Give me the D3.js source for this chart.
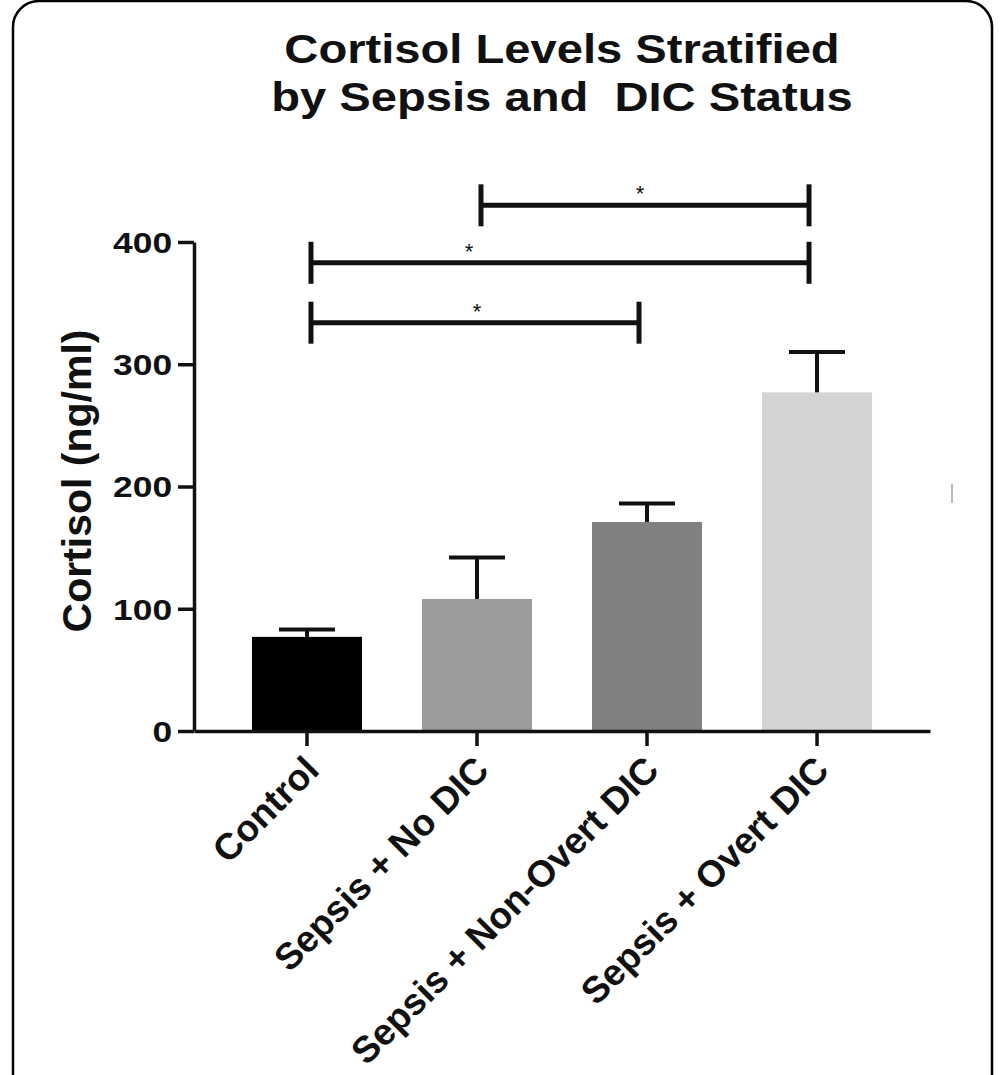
<!DOCTYPE html>
<html>
<head>
<meta charset="utf-8">
<script src="https://cdn.jsdelivr.net/npm/d3@7"></script>
<style>
  body { margin: 0; background: #fff; }
  svg text { font-family: "Liberation Sans", Arial, sans-serif; font-weight: bold; fill: #111; }
</style>
</head>
<body>
<svg width="1004" height="1075"></svg>
<script>
// data
let groups = ["Control", "Sepsis + No DIC", "Sepsis + Non-Overt DIC", "Sepsis + Overt DIC"];
let means = [77, 108, 171, 277];
let errUpper = [83, 142, 186, 310];
let barColors = ["#000000", "#9b9b9b", "#808080", "#d3d3d3"];
let yTicks = [0, 100, 200, 300, 400];
// significance brackets: [from group, to group, level, label]
let sigPairs = [
    [1, 3, 430, "*"],
    [0, 3, 383, "*"],
    [0, 2, 334, "*"]
];
let titleLines = ["Cortisol Levels Stratified", "by Sepsis and  DIC Status"];

let svg = d3.select("svg");

// rounded frame, runs off the bottom of the picture
svg.append("rect")
    .attr("x", 13).attr("y", 1)
    .attr("width", 979).attr("height", 1120)
    .attr("rx", 26)
    .style("fill", "none")
    .style("stroke", "#000")
    .style("stroke-width", 2.5);

let x = d3.scaleBand()
    .domain(groups)
    .range([194, 930])
    .paddingInner(0.353)
    .paddingOuter(0.341);

let y = d3.scaleLinear()
    .domain([0, 400])
    .range([731, 242]);

// title (the original is stretched sideways a little)
svg.append("text")
    .attr("transform", "translate(562,0) scale(1.15,1)")
    .attr("text-anchor", "middle")
    .style("font-size", "41px")
    .selectAll("tspan")
    .data(titleLines)
    .join("tspan")
    .attr("x", 0)
    .attr("y", (d, i) => 63 + i * 48)
    .style("white-space", "pre")
    .text(d => d);

// bars
svg.selectAll(".bar")
    .data(groups)
    .join("rect")
    .attr("class", "bar")
    .attr("x", d => x(d))
    .attr("y", (d, i) => y(means[i]))
    .attr("width", x.bandwidth())
    .attr("height", (d, i) => y(0) - y(means[i]))
    .style("fill", (d, i) => barColors[i]);

// error bars (upper only)
let capHalf = 28;
let err = svg.append("g").style("stroke", "#111").style("stroke-width", 4);
groups.forEach((g, i) => {
    let cx = x(g) + x.bandwidth() / 2;
    err.append("line")
        .attr("x1", cx).attr("x2", cx)
        .attr("y1", y(means[i])).attr("y2", y(errUpper[i]));
    err.append("line")
        .attr("x1", cx - capHalf).attr("x2", cx + capHalf)
        .attr("y1", y(errUpper[i])).attr("y2", y(errUpper[i]));
});

// y axis
let yAxis = svg.append("g")
    .attr("transform", "translate(194,0)")
    .call(d3.axisLeft(y).tickValues(yTicks).tickSize(16).tickPadding(4).tickSizeOuter(0));
yAxis.select(".domain").style("stroke", "#111").style("stroke-width", 3.5);
yAxis.selectAll(".tick line").style("stroke", "#111").style("stroke-width", 3.5);
yAxis.selectAll(".tick text")
    .attr("x", -18)
    .attr("dy", "0.36em")
    .attr("transform", "scale(1.22,1)")
    .style("font-size", "29px")
    .style("font-family", "'Liberation Sans', Arial, sans-serif")
    .style("font-weight", "bold")
    .style("fill", "#111");

// x axis
let xAxis = svg.append("g")
    .attr("transform", "translate(0,731)")
    .call(d3.axisBottom(x).tickSize(15).tickSizeOuter(0).tickFormat(""));
xAxis.select(".domain").style("stroke", "#111").style("stroke-width", 3.5);
xAxis.selectAll(".tick line").style("stroke", "#111").style("stroke-width", 3.5);

svg.selectAll(".xlabel")
    .data(groups)
    .join("text")
    .attr("class", "xlabel")
    .attr("text-anchor", "end")
    .attr("transform", d => `translate(${x(d) + x.bandwidth() / 2 + 14},${772}) rotate(-45)`)
    .style("font-size", "37px")
    .text(d => d);

// y label
svg.append("text")
    .attr("transform", "translate(91,481) rotate(-90)")
    .attr("text-anchor", "middle")
    .style("font-size", "41px")
    .text("Cortisol (ng/ml)");

// significance brackets
let sig = svg.append("g");
let starX = [640, 469, 477];
sigPairs.forEach((p, i) => {
    let x1 = x(groups[p[0]]) + x.bandwidth() / 2 + 4;
    let x2 = x(groups[p[1]]) + x.bandwidth() / 2 - 8;
    let yy = y(p[2]);
    sig.append("line")
        .attr("x1", x1).attr("x2", x2).attr("y1", yy).attr("y2", yy)
        .style("stroke", "#111").style("stroke-width", 5);
    [x1, x2].forEach(xx => {
        sig.append("line")
            .attr("x1", xx).attr("x2", xx).attr("y1", yy - 21).attr("y2", yy + 21)
            .style("stroke", "#111").style("stroke-width", 5);
    });
    sig.append("text")
        .attr("x", starX[i]).attr("y", yy - 4)
        .attr("text-anchor", "middle")
        .style("font-size", "22px")
        .style("font-weight", "normal")
        .text(p[3]);
});

// faint scan mark at right of the plot
svg.append("line")
    .attr("x1", 952).attr("x2", 952).attr("y1", 484).attr("y2", 503)
    .style("stroke", "#bbb").style("stroke-width", 2);
</script>
</body>
</html>
